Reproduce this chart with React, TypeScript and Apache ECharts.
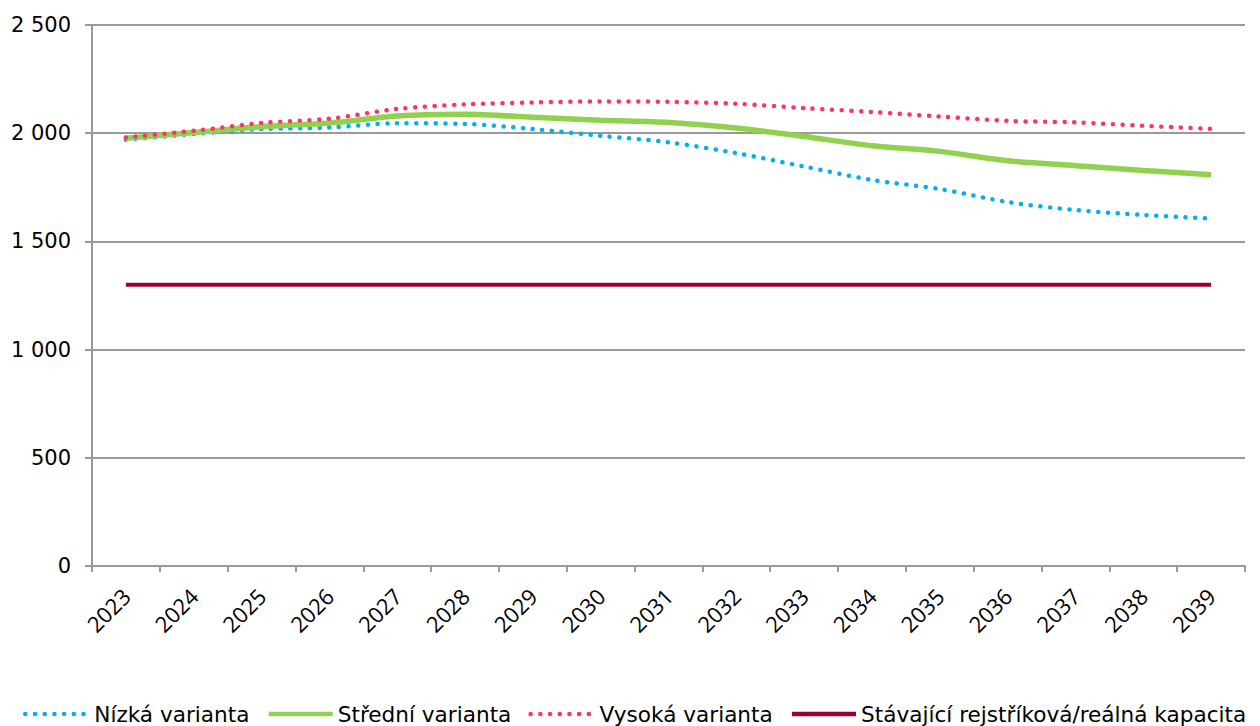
import React, { useEffect, useRef } from "react";
import * as echarts from "echarts";

const years = ["2023","2024","2025","2026","2027","2028","2029","2030","2031","2032","2033","2034","2035","2036","2037","2038","2039"];
const lowVariant = [1970, 1996, 2019, 2026, 2046, 2043, 2019, 1988, 1958, 1908, 1846, 1784, 1742, 1682, 1645, 1622, 1605];
const midVariant = [1977, 2003, 2030, 2047, 2080, 2088, 2074, 2060, 2050, 2024, 1985, 1942, 1916, 1873, 1850, 1828, 1808];
const highVariant = [1980, 2011, 2047, 2067, 2112, 2133, 2142, 2147, 2145, 2136, 2116, 2098, 2077, 2057, 2050, 2034, 2020];
const capacity = [1300, 1300, 1300, 1300, 1300, 1300, 1300, 1300, 1300, 1300, 1300, 1300, 1300, 1300, 1300, 1300, 1300];
const seriesNames = ["Nízká varianta", "Střední varianta", "Vysoká varianta", "Stávající rejstříková/reálná kapacita"];

export default function App() {
  const ref = useRef<HTMLDivElement>(null);
  useEffect(() => {
    const chart = echarts.init(ref.current!, undefined, { renderer: "svg" });
    const font = "DejaVu Sans, Verdana, sans-serif";
    const dotted = (color: string) => ({ color, width: 4.5, type: [0.1, 9.6] as any, cap: "round" as any });
    chart.setOption({
      animation: false,
      grid: { left: 92, right: 15, top: 25, bottom: 160, containLabel: false },
      xAxis: {
        type: "category",
        data: years,
        boundaryGap: true,
        axisLine: { show: true, lineStyle: { color: "#999999", width: 2 } },
        axisTick: { show: true, length: 6, alignWithLabel: false, lineStyle: { color: "#999999", width: 2 } },
        axisLabel: { rotate: 45, margin: 26, color: "#000", fontSize: 22, fontFamily: "Open Sans, sans-serif", interval: 0 },
        splitLine: { show: false },
      },
      yAxis: {
        type: "value",
        min: 0,
        max: 2500,
        interval: 500,
        axisLine: { show: true, lineStyle: { color: "#999999", width: 2 } },
        axisTick: { show: true, length: 7, lineStyle: { color: "#999999", width: 2 } },
        axisLabel: {
          color: "#000",
          fontSize: 21,
          fontFamily: font,
          margin: 21,
          formatter: (v: number) => String(v).replace(/\B(?=(\d{3})+(?!\d))/g, " "),
        },
        splitLine: { show: true, lineStyle: { color: "#999999", width: 2 } },
      },
      legend: {
        left: 18,
        top: 698,
        itemWidth: 64,
        itemHeight: 6,
        itemGap: 17,
        itemStyle: { opacity: 0 },
        lineStyle: { width: 4.5 },
        textStyle: { color: "#000", fontSize: 21.6, fontFamily: font },
        data: seriesNames,
      },
      series: [
        { name: seriesNames[0], type: "line", data: lowVariant, smooth: 0.3, symbol: "none", lineStyle: dotted("#00B0F0"), itemStyle: { color: "#00B0F0" } },
        { name: seriesNames[1], type: "line", data: midVariant, smooth: 0.3, symbol: "none", lineStyle: { color: "#92D050", width: 5.5 }, itemStyle: { color: "#92D050" } },
        { name: seriesNames[2], type: "line", data: highVariant, smooth: 0.3, symbol: "none", lineStyle: dotted("#FF3366"), itemStyle: { color: "#FF3366" } },
        { name: seriesNames[3], type: "line", data: capacity, symbol: "none", lineStyle: { color: "#990033", width: 4 }, itemStyle: { color: "#990033" } },
      ],
    });
    return () => chart.dispose();
  }, []);
  return <div ref={ref} style={{ width: 1260, height: 726, position: "absolute", left: 0, top: 0 }} />;
}
